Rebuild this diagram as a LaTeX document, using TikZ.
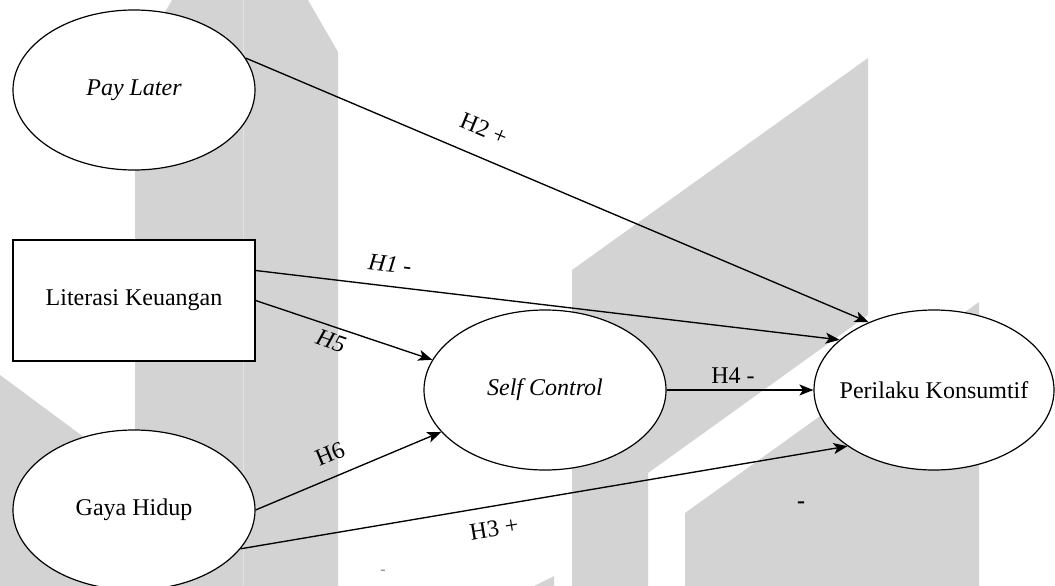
\documentclass[tikz,border=0pt]{standalone}
\usepackage{fontspec}
\setmainfont{Liberation Serif}
\usetikzlibrary{arrows.meta,shapes.geometric}
\definecolor{wm}{RGB}{211,211,211}
\begin{document}
\begin{tikzpicture}[x=1pt,y=-1pt,
  every node/.style={font=\fontsize{24}{28}\selectfont},
  latent/.style={draw, ellipse, line width=1.2pt, fill=white, minimum width=242pt, minimum height=160pt, inner sep=0pt},
  obs/.style={draw, rectangle, line width=1.3pt, fill=white, minimum width=242pt, minimum height=121pt, inner sep=0pt},
  hyp/.style={line width=1.35pt, -{Stealth[length=14pt,width=11pt,inset=3.5pt]}},
  lab/.style={inner sep=0.5pt}]
\useasboundingbox (0,0) rectangle (1055,586);
% watermark
\fill[wm] (135,586) -- (135,64) -- (172,0) -- (308,0) -- (338,52) -- (338,586) -- cycle;
\draw[white!35!wm, line width=0.8pt] (243,0) -- (243,586);
\fill[wm] (0,375) -- (135,475) -- (135,586) -- (0,586) -- cycle;
\fill[wm] (572,270) -- (868,58) -- (868,315) -- (648,473) -- (648,586) -- (572,586) -- cycle;
\fill[wm] (685,513) -- (979,302) -- (979,586) -- (685,586) -- cycle;
\fill[wm] (534,586) -- (554,576) -- (554,586) -- cycle;
% nodes
\node[latent] (pay) at (134,90) {\makebox[0pt]{\itshape Pay Later}};
\node[obs] (lit) at (134,300.5) {Literasi Keuangan};
\node[latent] (gaya) at (134,510) {\makebox[0pt]{Gaya Hidup}};
\node[latent] (sc) at (545,390) {\makebox[0pt]{\itshape Self Control}};
\node[latent, minimum width=240pt] (pk) at (934,390) {\makebox[0pt]{Perilaku Konsumtif}};
% connectors
\draw[hyp] (pay.16) -- (pk.134);
\draw[hyp] ([yshift=30pt]lit.east) -- (pk.152.5);
\draw[hyp] (lit.east) -- (sc.165);
\draw[hyp] (sc.east) -- (pk.west);
\draw[hyp] (gaya.east) -- (sc.202);
\draw[hyp] (gaya.-20) -- (pk.213);
% labels
\node[lab, rotate=-22.7] (l2) at (484,129) {H2 +};
\node[lab, rotate=-6.8] (l1) at (390,264) {\itshape H1 -};
\node[lab, rotate=-19] (l5) at (331,341) {\itshape H5};
\node[lab] (l4) at (733,376) {H4 -};
\node[lab, rotate=22.5] (l6) at (330,454) {H6};
\node[lab, rotate=9.4] (l3) at (494,529) {H3 +};
\node (m1) at (801,505) {\bfseries -};
\node[text=gray, font=\fontsize{16}{18}\selectfont] (m2) at (383,572) {-};
\end{tikzpicture}
\end{document}
